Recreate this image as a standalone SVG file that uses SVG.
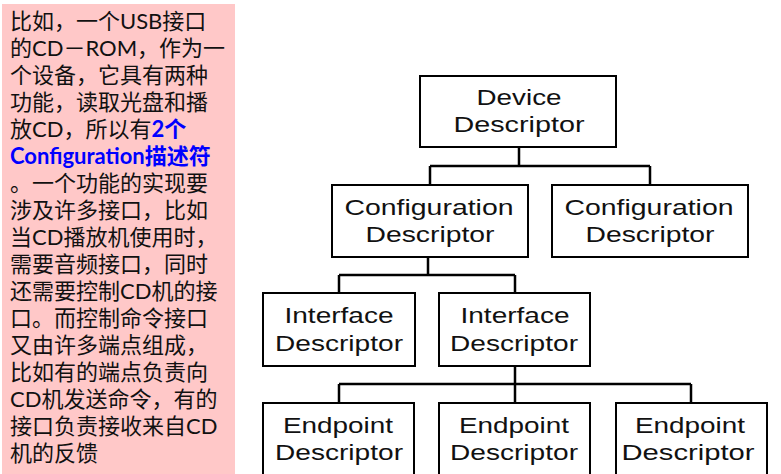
<svg xmlns="http://www.w3.org/2000/svg" width="781" height="474" viewBox="0 0 781 474">
<style>
.note{font-family:Lato,"Noto Sans CJK SC",sans-serif;font-size:22px;fill:#111}
.hl{fill:#0000ff;font-weight:bold}
.box{fill:#fff;stroke:#000;stroke-width:2}
.lbl{font-family:"Liberation Sans",Arial,sans-serif;font-size:22px;fill:#111;text-anchor:middle}
.con{fill:none;stroke:#000;stroke-width:2.5}
</style>
<rect width="781" height="474" fill="#fff"/>
<g id="note">
<rect x="2" y="4" width="233" height="470" fill="#ffc8c8"/>
<text class="note" x="10" y="29">比如，一个USB接口</text>
<text class="note" x="10" y="56">的CD－ROM，作为一</text>
<text class="note" x="10" y="83">个设备，它具有两种</text>
<text class="note" x="10" y="110">功能，读取光盘和播</text>
<text class="note" x="10" y="137">放CD，所以有<tspan class="hl">2个</tspan></text>
<text class="note" x="10" y="164"><tspan class="hl">Configuration描述符</tspan></text>
<text class="note" x="10" y="191">。一个功能的实现要</text>
<text class="note" x="10" y="218">涉及许多接口，比如</text>
<text class="note" x="10" y="245">当CD播放机使用时，</text>
<text class="note" x="10" y="272">需要音频接口，同时</text>
<text class="note" x="10" y="299">还需要控制CD机的接</text>
<text class="note" x="10" y="326">口。而控制命令接口</text>
<text class="note" x="10" y="353">又由许多端点组成，</text>
<text class="note" x="10" y="380">比如有的端点负责向</text>
<text class="note" x="10" y="407">CD机发送命令，有的</text>
<text class="note" x="10" y="434">接口负责接收来自CD</text>
<text class="note" x="10" y="461">机的反馈</text>
</g>
<g id="connectors">
<path class="con" d="M519 147V166M430 166H650M430 166V185M650 166V185"/>
<path class="con" d="M428 257V275M339 275H515M339 275V293M515 275V293"/>
<path class="con" d="M515 366V384M339 384H691M339 384V403M515 384V403M691 384V403"/>
</g>
<g id="device">
<rect class="box" x="420" y="76" width="196" height="71"/>
<text class="lbl" x="519" y="105" textLength="85" lengthAdjust="spacingAndGlyphs">Device</text>
<text class="lbl" x="519" y="132" textLength="131" lengthAdjust="spacingAndGlyphs">Descriptor</text>
</g>
<g id="config1">
<rect class="box" x="332" y="185" width="196" height="72"/>
<text class="lbl" x="429" y="215" textLength="169" lengthAdjust="spacingAndGlyphs">Configuration</text>
<text class="lbl" x="430" y="242" textLength="129" lengthAdjust="spacingAndGlyphs">Descriptor</text>
</g>
<g id="config2">
<rect class="box" x="552" y="185" width="196" height="72"/>
<text class="lbl" x="649" y="215" textLength="169" lengthAdjust="spacingAndGlyphs">Configuration</text>
<text class="lbl" x="650" y="242" textLength="129" lengthAdjust="spacingAndGlyphs">Descriptor</text>
</g>
<g id="interface1">
<rect class="box" x="263" y="293" width="152" height="73"/>
<text class="lbl" x="339" y="323" textLength="109" lengthAdjust="spacingAndGlyphs">Interface</text>
<text class="lbl" x="339" y="351" textLength="128" lengthAdjust="spacingAndGlyphs">Descriptor</text>
</g>
<g id="interface2">
<rect class="box" x="439" y="293" width="151" height="73"/>
<text class="lbl" x="515" y="323" textLength="109" lengthAdjust="spacingAndGlyphs">Interface</text>
<text class="lbl" x="514" y="351" textLength="128" lengthAdjust="spacingAndGlyphs">Descriptor</text>
</g>
<g id="endpoint1">
<rect class="box" x="263" y="403" width="151" height="72"/>
<text class="lbl" x="338" y="433" textLength="110" lengthAdjust="spacingAndGlyphs">Endpoint</text>
<text class="lbl" x="339" y="460" textLength="128" lengthAdjust="spacingAndGlyphs">Descriptor</text>
</g>
<g id="endpoint2">
<rect class="box" x="439" y="403" width="151" height="72"/>
<text class="lbl" x="514" y="433" textLength="110" lengthAdjust="spacingAndGlyphs">Endpoint</text>
<text class="lbl" x="514" y="460" textLength="128" lengthAdjust="spacingAndGlyphs">Descriptor</text>
</g>
<g id="endpoint3">
<rect class="box" x="616" y="403" width="151" height="72"/>
<text class="lbl" x="690" y="433" textLength="110" lengthAdjust="spacingAndGlyphs">Endpoint</text>
<text class="lbl" x="688" y="460" textLength="133" lengthAdjust="spacingAndGlyphs">Descriptor</text>
</g>
</svg>
